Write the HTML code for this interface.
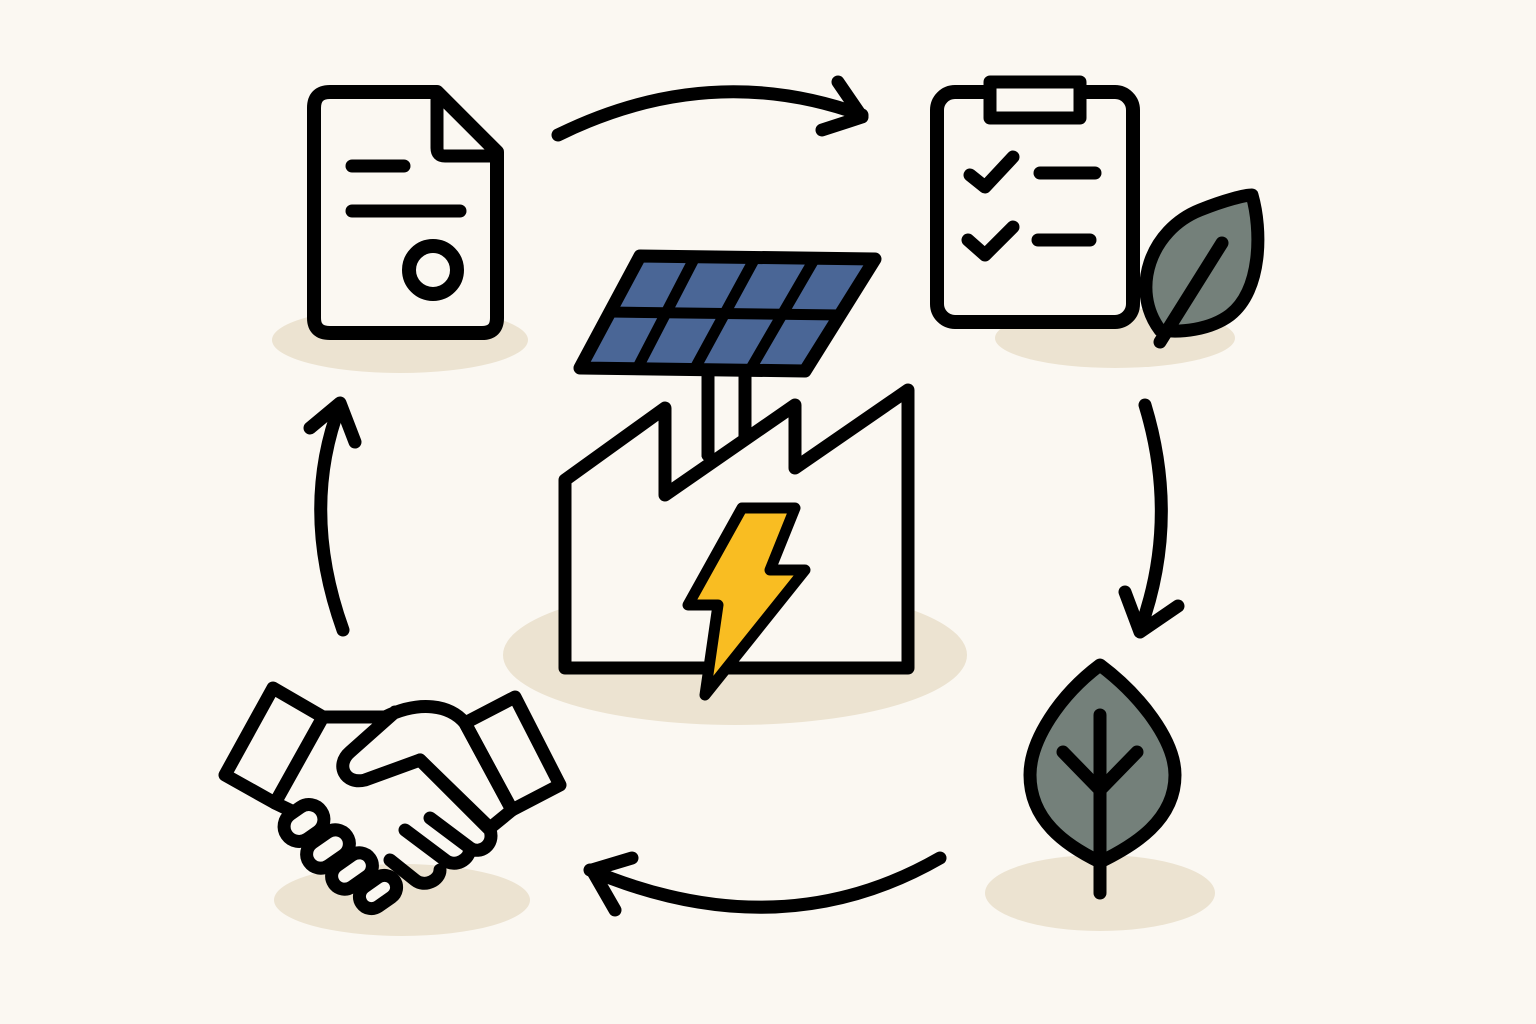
<!DOCTYPE html>
<html><head><meta charset="utf-8"><style>
html,body{margin:0;padding:0;background:#fbf8f2;}
svg{display:block}
</style></head><body>
<svg width="1536" height="1024" viewBox="0 0 1536 1024" xmlns="http://www.w3.org/2000/svg">
<rect width="1536" height="1024" fill="#fbf8f2"/>
<g fill="#ece3d1">
<ellipse cx="400" cy="340" rx="128" ry="33"/>
<ellipse cx="1115" cy="338" rx="120" ry="30"/>
<ellipse cx="735" cy="655" rx="232" ry="70"/>
<ellipse cx="1100" cy="893" rx="115" ry="38"/>
<ellipse cx="402" cy="900" rx="128" ry="36"/>
</g>
<g fill="none" stroke="#000" stroke-width="13" stroke-linecap="round" stroke-linejoin="round">
<!-- document -->
<path d="M330,92 L437,92 L497,152 L497,318 Q497,333 482,333 L330,333 Q314,333 314,318 L314,108 Q314,92 330,92 Z" fill="#fbf8f2" stroke-width="14"/>
<path d="M437,94 L437,148 Q437,156 445,156 L495,156"/>
<line x1="352" y1="166" x2="404" y2="166"/>
<line x1="352" y1="211" x2="460" y2="211"/>
<circle cx="433" cy="270" r="24" stroke-width="14"/>
<!-- arrows -->
<path d="M558,135 Q710,60 862,115"/>
<path d="M838,82 L862,117 L822,130"/>
<path d="M1145,405 Q1180,520 1140,630"/>
<path d="M1125,592 L1140,632 L1178,606"/>
<path d="M940,858 Q780,950 590,870"/>
<path d="M632,858 L592,870 L615,910"/>
<path d="M343,630 Q300,510 340,405"/>
<path d="M310,428 L340,403 L355,442"/>
<!-- clipboard -->
<rect x="937" y="92" width="196" height="230" rx="18" fill="#fbf8f2" stroke-width="14"/>
<rect x="990" y="82" width="90" height="36" fill="#fbf8f2"/>
<path d="M970,175 L985,187 L1013,157"/>
<line x1="1040" y1="173" x2="1095" y2="173"/>
<path d="M968,240 L985,255 L1013,227"/>
<line x1="1038" y1="240" x2="1090" y2="240"/>
<path d="M1160,330 C1130,290 1150,230 1200,210 C1225,200 1245,195 1252,195 C1262,230 1262,290 1230,315 C1210,330 1180,333 1160,330 Z" fill="#74807a"/>
<line x1="1160" y1="342" x2="1222" y2="243"/>
<!-- tree leaf -->
<path d="M1100,665 C1060,695 1030,740 1030,775 C1030,820 1065,845 1100,862 C1135,845 1175,820 1175,775 C1175,740 1140,695 1100,665 Z" fill="#74807a"/>
<line x1="1100" y1="715" x2="1100" y2="893"/>
<path d="M1063,752 L1100,790 L1137,752"/>
<!-- solar panel -->
<path d="M640,256 L875,259 L805,371 L580,368 Z" fill="#4a6696"/>
<line x1="610" y1="312" x2="840" y2="315" stroke-width="11"/>
<line x1="695" y1="257" x2="637" y2="369" stroke-width="11"/>
<line x1="755" y1="258" x2="694" y2="370" stroke-width="11"/>
<line x1="815" y1="258" x2="750" y2="370" stroke-width="11"/>
<line x1="708" y1="375" x2="708" y2="455"/>
<line x1="745" y1="375" x2="745" y2="440"/>
<!-- factory -->
<path d="M565,480 L665,408 L665,495 L795,405 L795,468 L908,390 L908,668 L565,668 Z" fill="#fbf8f2"/>
<line x1="708" y1="440" x2="708" y2="455"/>
<path d="M742,508 L688,605 L718,605 L705,695 L805,570 L770,570 L795,508 Z" fill="#f9bd22" stroke-width="11"/>
<!-- handshake -->
<path d="M225,775 L273,688 L323,717 L275,803 Z" fill="#fbf8f2"/>
<path d="M465,723 L515,697 L560,785 L512,810 Z" fill="#fbf8f2"/>
<path d="M323,717 L385,717 C420,700 450,705 465,723 L512,810 L490,828 L420,760 L365,780 C345,785 335,765 350,752 L395,712"/>
<path d="M275,803 L300,815 M420,760 L490,830 C495,845 480,855 470,848 M430,818 L470,848 C470,860 455,868 445,860 L405,830 M440,870 C440,880 425,888 415,880 L390,860"/>
<rect x="283" y="808" width="42" height="30" rx="15" transform="rotate(-35 304 823)" fill="#fbf8f2"/>
<rect x="305" y="835" width="46" height="28" rx="14" transform="rotate(-35 328 849)" fill="#fbf8f2"/>
<rect x="330" y="858" width="44" height="26" rx="13" transform="rotate(-35 352 871)" fill="#fbf8f2"/>
<rect x="358" y="880" width="40" height="24" rx="12" transform="rotate(-35 378 892)" fill="#fbf8f2"/>
</g>
</svg>
</body></html>
